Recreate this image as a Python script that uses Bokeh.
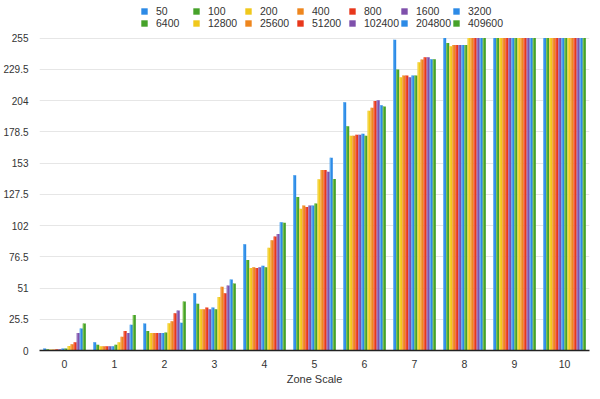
from bokeh.plotting import figure
from bokeh.models import (ColumnDataSource, Range1d, FixedTicker,
                          CustomJSTickFormatter, Legend, LegendItem)
from bokeh.transform import dodge
from bokeh.embed import file_html
from bokeh.resources import INLINE

# ---------------- data ----------------
zones = [0, 1, 2, 3, 4, 5, 6, 7, 8, 9, 10]
y_ticks = [0, 25.5, 51, 76.5, 102, 127.5, 153, 178.5, 204, 229.5, 255]

series_names = ["50", "100", "200", "400", "800", "1600", "3200",
                "6400", "12800", "25600", "51200", "102400", "204800", "409600"]

s50 = [1.6, 6.8, 22.1, 46.8, 86.8, 143.1, 202.6, 253.6, 255, 255, 255]
s100 = [1.0, 4.7, 16.0, 38.1, 73.9, 125.3, 183.1, 229.4, 251.0, 255, 255]
s200 = [0.8, 3.4, 14.2, 33.7, 67.3, 115.8, 175.2, 223.1, 248.4, 255, 255]
s400 = [0.8, 3.4, 14.2, 33.7, 67.9, 118.4, 175.2, 224.4, 249.4, 255, 255]
s800 = [1.0, 3.4, 14.2, 35.0, 67.3, 117.1, 176.2, 224.4, 249.4, 255, 255]
s1600 = [1.0, 3.4, 14.2, 33.7, 67.9, 118.4, 176.2, 223.1, 249.4, 255, 255]
s3200 = [1.6, 3.4, 14.2, 35.0, 69.2, 118.4, 177.0, 224.4, 249.4, 255, 255]
s6400 = [1.6, 4.7, 14.7, 33.7, 67.9, 120.0, 175.2, 224.4, 249.4, 255, 255]
s12800 = [3.7, 6.8, 22.3, 43.6, 83.9, 139.7, 195.7, 235.2, 255, 255, 255]
s25600 = [5.0, 11.3, 23.9, 52.1, 90.0, 147.4, 198.1, 237.6, 255, 255, 255]
s51200 = [6.8, 16.0, 30.5, 46.8, 93.1, 147.4, 203.6, 239.4, 255, 255, 255]
s102400 = [14.2, 14.2, 32.6, 53.1, 95.0, 146.0, 204.2, 239.4, 255, 255, 255]
s204800 = [17.9, 21.1, 22.6, 57.9, 104.7, 157.3, 200.2, 237.8, 255, 255, 255]
s409600 = [22.1, 29.0, 40.0, 54.7, 104.2, 140.0, 199.1, 237.8, 255, 255, 255]

series_values = [s50, s100, s200, s400, s800, s1600, s3200,
                 s6400, s12800, s25600, s51200, s102400, s204800, s409600]

palette = ["#2c8ae6", "#46a22a", "#f0c81c", "#ee861e", "#e8371b", "#7f50ab"]
palette_light = ["#7cc0f8", "#8ccd5c", "#fbe26a", "#f8b25e", "#f57a5c", "#a889c9"]
series_colors = [palette[i % 6] for i in range(len(series_names))]
series_light = [palette_light[i % 6] for i in range(len(series_names))]

# ---------------- figure ----------------
FONT = "Liberation Sans"
FRAME_W, FRAME_H = 550, 350
Y_TOP = 285.7   # headroom above 255 holds the legend

p = figure(frame_width=FRAME_W, frame_height=FRAME_H, output_backend="svg",
           toolbar_location=None,
           x_range=Range1d(-0.5, 10.5), y_range=Range1d(0, Y_TOP),
           min_border_left=32, min_border_right=2, min_border_top=0,
           min_border_bottom=33)

data = {"zone": zones}
for name, vals in zip(series_names, series_values):
    data["s" + name] = vals
src = ColumnDataSource(data)

n = len(series_names)
bar_w = 0.061
hl_w = bar_w * 0.35
items = []
for j, (name, color, light) in enumerate(zip(series_names, series_colors, series_light)):
    off = (j - (n - 1) / 2) * bar_w
    r = p.vbar(x=dodge("zone", off, range=p.x_range), top="s" + name,
               width=bar_w, source=src, fill_color=color, line_color=None)
    # lighter left edge to mimic the gradient shading of the bars
    p.vbar(x=dodge("zone", off - bar_w / 2 + hl_w / 2, range=p.x_range),
           top="s" + name, width=hl_w, source=src, fill_color=light,
           fill_alpha=0.8, line_color=None)
    items.append(LegendItem(label=name, renderers=[r]))

legend_style = dict(orientation="horizontal", glyph_width=8, glyph_height=8,
                    label_standoff=8, label_width=36, label_height=10,
                    spacing=0, padding=0, margin=0,
                    label_text_font=FONT, label_text_font_size="10.5px",
                    label_text_color="#333333",
                    background_fill_alpha=0, border_line_color=None)

legend_row1 = Legend(items=items[:7], location=(101, FRAME_H - 17), **legend_style)
legend_row2 = Legend(items=items[7:], location=(101, FRAME_H - 29), **legend_style)
p.add_layout(legend_row1, "center")
p.add_layout(legend_row2, "center")

# axes
p.xaxis.ticker = FixedTicker(ticks=zones)
p.xaxis.axis_label = "Zone Scale"
p.xaxis.axis_label_text_font = FONT
p.xaxis.axis_label_text_font_style = "normal"
p.xaxis.axis_label_text_font_size = "11px"
p.xaxis.axis_label_text_color = "#333333"
p.xaxis.axis_label_standoff = 2
p.xaxis.major_label_standoff = 3
p.xaxis.axis_line_color = "#222222"
p.xaxis.axis_line_width = 1.5
p.xaxis.major_tick_line_color = None
p.xaxis.minor_tick_line_color = None
p.xaxis.major_label_text_font = FONT
p.xaxis.major_label_text_font_size = "10.5px"
p.xaxis.major_label_text_color = "#333333"

p.yaxis.ticker = FixedTicker(ticks=y_ticks)
p.yaxis.formatter = CustomJSTickFormatter(code="return tick.toString();")
p.yaxis.axis_line_color = None
p.yaxis.major_tick_line_color = None
p.yaxis.minor_tick_line_color = None
p.yaxis.major_label_standoff = 5
p.yaxis.major_label_text_font = FONT
p.yaxis.major_label_text_font_size = "10px"
p.yaxis.major_label_text_color = "#333333"

p.xgrid.grid_line_color = None
p.ygrid.grid_line_color = "#e6e6e6"
p.outline_line_color = None

open("out.html", "w").write(file_html(p, INLINE))
